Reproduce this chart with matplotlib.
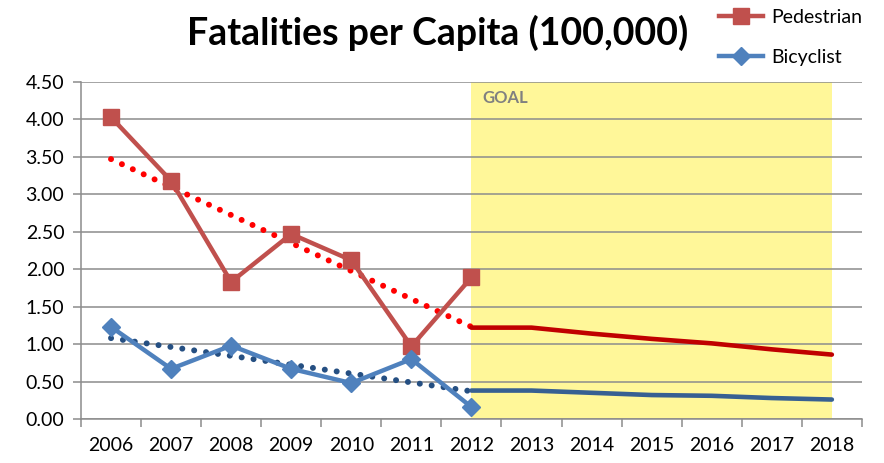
import matplotlib
matplotlib.use('Agg')
import matplotlib.pyplot as plt
import numpy as np

years = ['2006', '2007', '2008', '2009', '2010', '2011', '2012',
         '2013', '2014', '2015', '2016', '2017', '2018']

pedestrian = [4.03, 3.18, 1.83, 2.47, 2.12, 0.97, 1.89]
bicyclist = [1.23, 0.67, 0.98, 0.67, 0.48, 0.80, 0.16]

ped_trend = [3.47, 1.23]
bike_trend = [1.08, 0.37]

ped_goal = [1.22, 1.22, 1.14, 1.07, 1.01, 0.93, 0.86]
bike_goal = [0.38, 0.38, 0.35, 0.32, 0.31, 0.28, 0.26]

yticks = [0.0, 0.5, 1.0, 1.5, 2.0, 2.5, 3.0, 3.5, 4.0, 4.5]

plt.rcParams['font.family'] = ['Lato', 'DejaVu Sans']

fig = plt.figure(figsize=(8.84, 4.63), dpi=100)
ax = fig.add_axes([0.0916, 0.095, 0.975 - 0.0916, 0.823 - 0.095])

x = np.arange(len(years))
hist = x[:len(pedestrian)]
goal = x[len(pedestrian) - 1:]

ax.axvspan(goal[0], goal[-1], color='#FFF799', zorder=0, lw=0)
ax.text(goal[0] + 0.18, 4.28, 'GOAL', color='#808080', fontsize=12,
        fontweight='bold', va='center', zorder=2)

for y in yticks:
    ax.axhline(y, color='#8C8C8C', lw=1.1, zorder=1)

ax.plot([hist[0], hist[-1]], ped_trend, color='#FF0000', lw=4.3,
        linestyle=(0, (0.01, 2.0)), dash_capstyle='round', zorder=3)
ax.plot([hist[0], hist[-1]], bike_trend, color='#254F82', lw=4.3,
        linestyle=(0, (0.01, 2.0)), dash_capstyle='round', zorder=3)

ax.plot(goal, ped_goal, color='#C00000', lw=3.3, zorder=3,
        solid_capstyle='round')
ax.plot(goal, bike_goal, color='#376092', lw=3.3, zorder=3,
        solid_capstyle='round')

ax.plot(hist, pedestrian, color='#C0504D', lw=3.2, marker='s',
        markersize=11.5, zorder=4, label='Pedestrian')
ax.plot(hist, bicyclist, color='#4F81BD', lw=3.2, marker='D',
        markersize=9.5, zorder=4, label='Bicyclist')

ax.set_xlim(-0.5, len(years) - 0.5)
ax.set_ylim(0, 4.5)
ax.set_xticks(x)
ax.set_xticklabels(years)
ax.set_xticks(np.arange(-0.5, len(years)), minor=True)
ax.tick_params(axis='x', which='major', length=0, pad=13, labelsize=14)
ax.tick_params(axis='x', which='minor', length=6, color='#8C8C8C', width=1.1)
ax.set_yticks(yticks)
ax.set_yticklabels(['%.2f' % v for v in yticks])
ax.tick_params(axis='y', length=6, color='#8C8C8C', width=1.1, labelsize=14, pad=6)

for side in ['top', 'right']:
    ax.spines[side].set_visible(False)
for side in ['left', 'bottom']:
    ax.spines[side].set_color('#8C8C8C')
    ax.spines[side].set_linewidth(1.1)

fig.text(0.495, 0.93, 'Fatalities per Capita (100,000)', fontsize=27,
         fontweight='bold', ha='center', va='center')

fig.legend(loc='upper left', bbox_to_anchor=(0.793, 1.018), frameon=False,
           fontsize=14, handlelength=2.3, labelspacing=1.15, handletextpad=0.4)

fig.savefig('out.png', dpi=100)
